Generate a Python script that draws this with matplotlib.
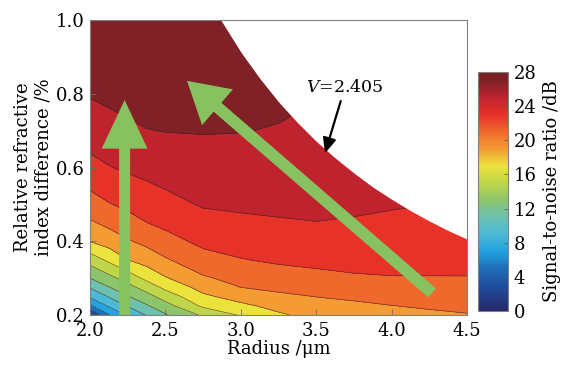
import matplotlib
matplotlib.use("Agg")
import matplotlib.pyplot as plt
from matplotlib.colors import LinearSegmentedColormap, Normalize
from matplotlib.cm import ScalarMappable
from matplotlib.ticker import FormatStrFormatter

plt.rcParams.update({
    'font.family': 'DejaVu Serif',
    'mathtext.fontset': 'dejavuserif',
    'font.size': 13,
})

# grid
radius = [2.0, 2.125, 2.25, 2.375, 2.5, 2.75, 3.0, 3.25, 3.5, 3.75, 4.0, 4.25, 4.5]
delta = [0.2, 0.225, 0.25, 0.275, 0.3, 0.35, 0.4, 0.45, 0.5, 0.6, 0.7, 0.8, 0.9, 1.0]

# SNR (dB), one row per delta value, one column per radius value
snr = [
    [2.0, 5.85, 8.3, 10.13, 11.8, 14.3, 16.2, 17.7, 18.7, 19.1, 19.35, 19.65, 19.9],
    [5.7, 8.3, 10.14, 11.8, 13.26, 16.39, 17.56, 18.65, 19.3, 19.6, 19.97, 20.23, 20.4],
    [8.3, 10.14, 11.86, 13.26, 14.86, 17.61, 18.81, 19.62, 20.03, 20.35, 20.62, 20.8, 20.92],
    [10.15, 11.93, 13.31, 14.86, 16.49, 18.71, 20.0, 20.42, 20.75, 21.07, 21.27, 21.36, 21.43],
    [12.0, 13.37, 14.87, 16.5, 17.84, 19.75, 20.64, 21.13, 21.48, 21.8, 21.92, 21.93, 21.94],
    [14.9, 16.45, 18.0, 18.85, 19.81, 21.29, 21.92, 22.3, 22.48, 22.55, 22.53, 22.48, 22.45],
    [18.07, 18.9, 19.79, 20.54, 21.29, 22.47, 22.81, 23.08, 23.22, 23.2, 23.1, 22.99, 22.9],
    [19.73, 20.5, 21.22, 21.97, 22.48, 23.38, 23.67, 23.86, 23.97, 23.85, 23.67, 23.49, 23.35],
    [21.15, 21.89, 22.44, 22.94, 23.43, 24.16, 24.28, 24.32, 24.35, 24.3, 24.15, 24.0, 23.8],
    [23.42, 23.92, 24.29, 24.6, 24.85, 25.17, 25.2, 25.1, 25.0, 24.9, 24.75, 24.5, 24.2],
    [24.93, 25.28, 25.65, 25.95, 26.05, 26.1, 26.05, 25.9, 25.6, 25.4, 25.1, 24.8, 24.5],
    [26.15, 26.45, 26.65, 26.8, 26.9, 26.8, 26.6, 26.4, 26.1, 25.7, 25.4, 25.0, 24.7],
    [26.95, 27.1, 27.2, 27.3, 27.4, 27.3, 27.1, 26.9, 26.5, 26.0, 25.6, 25.2, 24.9],
    [27.4, 27.45, 27.5, 27.6, 27.7, 27.6, 27.4, 27.2, 26.8, 26.2, 25.8, 25.4, 25.0],
]

# single-mode cutoff V=2.405 (largest delta still single mode, per radius)
cut_radius = [2.867, 3.0, 3.125, 3.25, 3.375, 3.5, 3.625, 3.75, 3.875,
              4.0, 4.125, 4.25, 4.375, 4.5]
cut_delta = [1.0, 0.913, 0.842, 0.778, 0.722, 0.671, 0.626, 0.585, 0.547,
             0.514, 0.483, 0.455, 0.429, 0.406]

levels = list(range(0, 30, 2))
cbar_ticks = list(range(0, 29, 4))

cmap = LinearSegmentedColormap.from_list('snr', [
    (0 / 28, '#262a6c'), (3 / 28, '#1f4e9e'), (5 / 28, '#1f6fb8'),
    (7 / 28, '#22a3df'), (9 / 28, '#4cbad6'), (11 / 28, '#6cc1b0'),
    (13 / 28, '#8ec56c'), (15 / 28, '#bed64a'), (17 / 28, '#ece33c'),
    (19 / 28, '#f49b34'), (21 / 28, '#ef6a2c'), (23 / 28, '#e8322a'),
    (25 / 28, '#c0242e'), (27 / 28, '#7f2126'), (28 / 28, '#7a1f24'),
])
norm = Normalize(vmin=0, vmax=28)

fig = plt.figure(figsize=(5.63, 3.68), dpi=100)
ax = fig.add_axes([0.160, 0.144, 0.6696, 0.8016])
cax = fig.add_axes([0.849, 0.155, 0.0533, 0.649])

ax.contourf(radius, delta, snr, levels=levels, cmap=cmap, norm=norm)
ax.contour(radius, delta, snr, levels=levels, colors='#3a2020',
           linewidths=0.5, alpha=0.7)
# beyond cutoff: multimode, left blank
ax.fill_between(cut_radius, cut_delta, 1.0, color='white', zorder=3,
                linewidth=0)

arrow_green = '#87c160'
ax.annotate('', xy=(2.229, 0.783), xytext=(2.229, 0.2),
            arrowprops=dict(arrowstyle='simple,head_length=3.5,head_width=3.3,tail_width=0.79',
                            color=arrow_green, shrinkA=0, shrinkB=0,
                            mutation_scale=10, linewidth=0),
            zorder=5)
ax.annotate('', xy=(2.643, 0.835), xytext=(4.268, 0.260),
            arrowprops=dict(arrowstyle='simple,head_length=2.9,head_width=3.4,tail_width=0.85',
                            color=arrow_green, shrinkA=0, shrinkB=0,
                            mutation_scale=10, linewidth=0),
            zorder=5)

ax.annotate('$V$=2.405', xy=(3.558, 0.639), xytext=(3.69, 0.818),
            ha='center', va='center', fontsize=12.5,
            arrowprops=dict(arrowstyle='-|>,head_length=0.9,head_width=0.4',
                            color='black', lw=1.6, shrinkA=2, shrinkB=0,
                            mutation_scale=10),
            zorder=6)

ax.set_xlim(2.0, 4.5)
ax.set_ylim(0.2, 1.0)
ax.set_xticks([2.0, 2.5, 3.0, 3.5, 4.0, 4.5])
ax.set_yticks([0.2, 0.4, 0.6, 0.8, 1.0])
ax.xaxis.set_major_formatter(FormatStrFormatter('%.1f'))
ax.yaxis.set_major_formatter(FormatStrFormatter('%.1f'))
ax.tick_params(direction='in', length=4, width=0.6, color='#707070',
               labelsize=13)
ax.tick_params(axis='x', pad=5)
ax.tick_params(axis='y', pad=4)
for s in ax.spines.values():
    s.set_color('#808080')
    s.set_linewidth(0.8)
    s.set_zorder(7)

ax.set_xlabel('Radius /\u03bcm', fontsize=13, labelpad=0)
ax.set_ylabel('Relative refractive\nindex difference /%', fontsize=13,
              labelpad=2, linespacing=1.2)

sm = ScalarMappable(norm=norm, cmap=cmap)
cb = fig.colorbar(sm, cax=cax, ticks=cbar_ticks)
cb.outline.set_edgecolor('#808080')
cb.outline.set_linewidth(0.8)
cax.tick_params(direction='in', length=3, width=0.6, color='#606060',
                labelsize=13, pad=4)
cb.set_label('Signal-to-noise ratio /dB', fontsize=13, labelpad=5)

fig.savefig('out.png', dpi=100)
